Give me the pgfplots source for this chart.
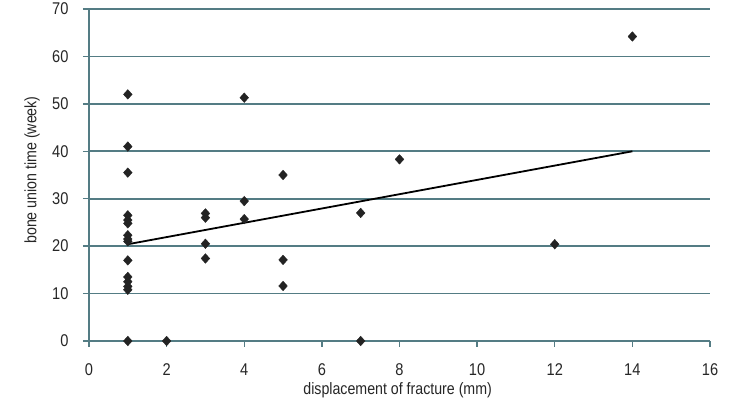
\documentclass[border=0pt]{standalone}
\usepackage{pgfplots}
\pgfplotsset{compat=1.18}
\usepackage{fontspec}
\setmainfont{Liberation Sans}[FakeStretch=0.86]
\definecolor{gridc}{RGB}{84,124,132}
\definecolor{markc}{RGB}{35,35,35}
\begin{document}
\begin{tikzpicture}
\begin{axis}[
  at={(0,0)}, anchor=origin,
  scale only axis, width=621pt, height=332pt,
  xmin=0, xmax=16, ymin=0, ymax=70,
  xtick={0,2,...,16}, ytick={0,10,...,70},
  axis x line=bottom, axis y line=left,
  axis line style={-, draw=gridc, line width=1.6pt},
  ymajorgrids, grid style={draw=gridc, line width=1.6pt},
  tick align=outside,
  major tick length=6pt,
  tick style={draw=gridc, line width=1.4pt},
  every tick label/.append style={font=\fontsize{17}{19}\selectfont, text=black!85},
  /pgf/number format/assume math mode=true,
  xticklabel style={yshift=-13pt},
  yticklabel style={xshift=-11pt},
  xlabel={displacement of fracture (mm)},
  ylabel={bone union time (week)},
  every axis x label/.style={at={(axis description cs:0.497,0)}, anchor=center, yshift=-49pt, font=\fontsize{16.5}{19}\selectfont, text=black!85},
  every axis y label/.style={at={(axis description cs:0,0.515)}, xshift=-57pt, rotate=90, anchor=center, font=\fontsize{16.5}{19}\selectfont, text=black!85},
  clip=false,
]
\addplot[only marks, mark=diamond*, mark size=4.8pt, mark options={xscale=1.2}, color=markc] coordinates {
 (1,52) (1,41) (1,35.5) (1,26.5) (1,25.5) (1,24.8) (1,22.3) (1,21.5) (1,21)
 (1,17) (1,13.5) (1,12.5) (1,11.5) (1,10.8) (1,0)
 (2,0)
 (3,26.9) (3,26) (3,20.5) (3,17.4)
 (4,51.3) (4,29.5) (4,25.7)
 (5,35) (5,17.1) (5,11.6)
 (7,27) (7,0)
 (8,38.3)
 (12,20.4)
 (14,64.2)
};
\addplot[black, line width=1.8pt] coordinates {(1,20.4) (14,40)};
\end{axis}
\pgfresetboundingbox
\path[use as bounding box] (-89pt,-60pt) rectangle (666pt,341pt);
\end{tikzpicture}
\end{document}
